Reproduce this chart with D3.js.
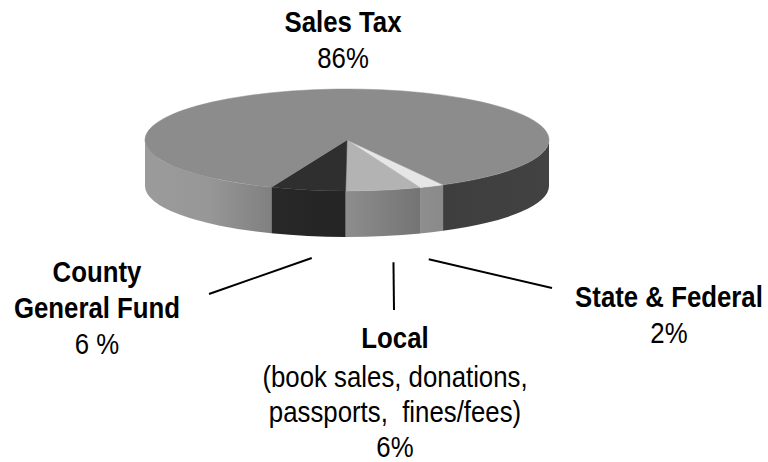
<!DOCTYPE html>
<html>
<head>
<meta charset="utf-8">
<script src="https://cdn.jsdelivr.net/npm/d3@7"></script>
<style>
  body { margin: 0; background: #fff; }
  text { font-family: "Liberation Sans", Arial, sans-serif; fill: #000; white-space: pre; }
</style>
</head>
<body>
<div id="chart"></div>
<script>
// data, in clockwise drawing order
var categories = ['State & Federal', 'Local', 'County General Fund', 'Sales Tax'];
var values = [2, 6, 6, 86];
var nameLines = [['State & Federal'], ['Local'], ['County', 'General Fund'], ['Sales Tax']];
var subLines = [[], ['(book sales, donations,', 'passports,  fines/fees)'], [], []];
var pctLabels = ['2%', '6%', '6 %', '86%'];

var chartWidth = 768;
var chartHeight = 462;

// pie geometry (ellipse centre, radii, thickness)
var cx = 347, cy = 140, rx = 202, ry = 51, depth = 46;
var startDeg = 61.6;
// narrow-looking text: squeeze Liberation Sans horizontally
var squeeze = 0.86;

var topColor = d3.scaleOrdinal()
    .domain(categories)
    .range(['#e6e6e6', '#b3b3b3', '#2f2f2f', '#8c8c8c']);

// side gradient stops per category (left -> right)
var sideStops = {
  'State & Federal': ['#8e8e8e', '#8a8a8a'],
  'Local': ['#8d8d8d', '#747474'],
  'County General Fund': ['#282828', '#242424'],
  'Sales Tax': ['#3e3e3e', '#424242']
};
var salesLeftStops = ['#9b9b9b', '#979797', '#808080'];

var svg = d3.select('#chart')
    .append('svg')
    .attr('width', chartWidth)
    .attr('height', chartHeight);

var defs = svg.append('defs');

var pie = d3.pie()
    .sort(null)
    .value(function(d) { return d; })
    .startAngle(startDeg * Math.PI / 180)
    .endAngle(startDeg * Math.PI / 180 + 2 * Math.PI);

var arcs = pie(values);

function pt(a, y0) {
  return [cx + rx * Math.cos(a), (y0 || cy) + ry * Math.sin(a)];
}

function topPath(a0, a1) {
  var p0 = pt(a0), p1 = pt(a1);
  var large = (a1 - a0) > Math.PI ? 1 : 0;
  return 'M' + cx + ',' + cy + 'L' + p0 + 'A' + rx + ',' + ry + ' 0 ' + large + ' 1 ' + p1 + 'Z';
}

function sidePath(a0, a1) {
  var p0 = pt(a0), p1 = pt(a1);
  var q0 = pt(a0, cy + depth), q1 = pt(a1, cy + depth);
  return 'M' + p0 + 'A' + rx + ',' + ry + ' 0 0 1 ' + p1 +
    'L' + q1 + 'A' + rx + ',' + ry + ' 0 0 0 ' + q0 + 'Z';
}

function gradient(id, stops, x0, x1) {
  var g = defs.append('linearGradient')
      .attr('id', id)
      .attr('gradientUnits', 'userSpaceOnUse')
      .attr('x1', x0).attr('x2', x1).attr('y1', 0).attr('y2', 0);
  stops.forEach(function(c, i) {
    g.append('stop').attr('offset', i / (stops.length - 1)).attr('stop-color', c);
  });
  return 'url(#' + id + ')';
}

// visible side pieces: angles within [0, PI] (front half)
var sides = [];
arcs.forEach(function(d, i) {
  var ranges = [[d.startAngle, d.endAngle], [d.startAngle - 2 * Math.PI, d.endAngle - 2 * Math.PI]];
  ranges.forEach(function(r) {
    var a0 = Math.max(r[0], 0), a1 = Math.min(r[1], Math.PI);
    if (a1 > a0) sides.push({ i: i, a0: a0, a1: a1 });
  });
});

var sideG = svg.append('g');
sides.forEach(function(s, k) {
  var cat = categories[s.i];
  var xa = pt(s.a1)[0], xb = pt(s.a0)[0];
  var left = Math.min(xa, xb), right = Math.max(xa, xb);
  var stops = sideStops[cat];
  if (cat === 'Sales Tax' && s.a0 > Math.PI / 2) stops = salesLeftStops;
  sideG.append('path')
      .attr('d', sidePath(s.a0, s.a1))
      .attr('fill', gradient('side' + k, stops, left, right))
      .attr('stroke', 'none');
});

// top faces
svg.append('g')
  .selectAll('path')
  .data(arcs)
  .enter()
  .append('path')
    .attr('d', function(d) { return topPath(d.startAngle, d.endAngle); })
    .attr('fill', function(d, i) { return topColor(categories[i]); })
    .attr('stroke', function(d, i) { return topColor(categories[i]); })
    .attr('stroke-width', 0.5);

// label layout
var layout = [
  { x: 669, y: 307, line: [552, 288], off: [-3, 27] },
  { x: 395, y: 348, line: [394, 310], off: [10, 26] },
  { x: 97, y: 282, line: [209, 294], off: [4, 22] },
  { x: 343, y: 32 }
];

var labels = svg.append('g');

function label(x, y, t, bold) {
  labels.append('text')
      .attr('transform', 'translate(' + x + ',' + y + ') scale(' + squeeze + ',1)')
      .attr('text-anchor', 'middle')
      .attr('font-size', 30)
      .attr('font-weight', bold ? 'bold' : 'normal')
      .text(t);
}

arcs.forEach(function(d, i) {
  var L = layout[i];
  var y = L.y;
  nameLines[i].forEach(function(t, j) {
    label(L.x, y, t, true);
    y += 36;
  });
  if (subLines[i].length) y += 3;
  subLines[i].forEach(function(t) {
    label(L.x, y, t, false);
    y += 35;
  });
  label(L.x, y, pctLabels[i], false);

  if (L.line) {
    var mid = (d.startAngle + d.endAngle) / 2;
    var p = pt(mid, cy + depth);
    labels.append('line')
        .attr('x1', p[0] + L.off[0]).attr('y1', p[1] + L.off[1])
        .attr('x2', L.line[0]).attr('y2', L.line[1])
        .attr('stroke', '#000')
        .attr('stroke-width', 2);
  }
});
</script>
</body>
</html>
